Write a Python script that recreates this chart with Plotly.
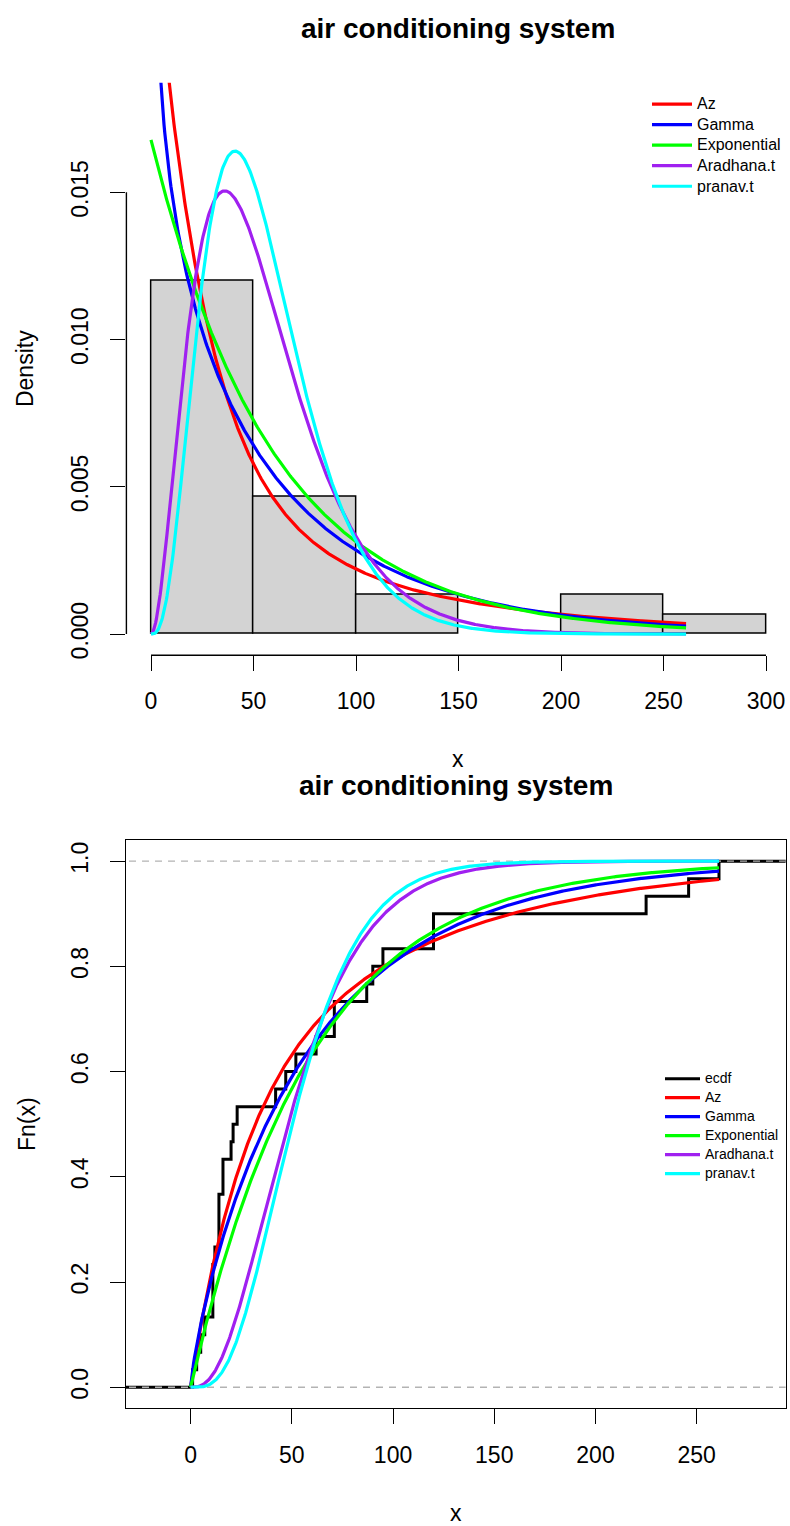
import math
import numpy as np
import plotly.graph_objects as go

# ---------------- data ----------------
failure_times = [23, 261, 87, 7, 120, 14, 62, 47, 225, 71, 246, 21, 42, 20, 5,
                 12, 120, 11, 3, 14, 71, 11, 14, 11, 16, 90, 1, 16, 52, 95]
hist_start, hist_end, hist_width = 0, 300, 50

series_names = ["Az", "Gamma", "Exponential", "Aradhana.t", "pranav.t"]
series_colors = ["#FF0000", "#0000FF", "#00FF00", "#A020F0", "#00FFFF"]

# fitted model parameters (read/estimated from the picture)
az_weight, az_rate1, az_rate2 = 0.5, 0.040, 0.0102
gamma_shape, gamma_rate = 0.803, 0.01348
exp_rate = 0.01678
aradhana_shape, aradhana_rate = 3.0, 0.0556
pranav_shape, pranav_rate = 4.0, 0.0732

top_xticks = [0, 50, 100, 150, 200, 250, 300]
top_yticks = [0.0, 0.005, 0.010, 0.015]
top_yticklabels = ["0.000", "0.005", "0.010", "0.015"]
bot_xticks = [0, 50, 100, 150, 200, 250]
bot_yticks = [0.0, 0.2, 0.4, 0.6, 0.8, 1.0]
bot_yticklabels = ["0.0", "0.2", "0.4", "0.6", "0.8", "1.0"]

# ---------------- model functions ----------------
def gamma_pdf(x, a, b):
    with np.errstate(divide="ignore", invalid="ignore"):
        v = b ** a * np.power(x, a - 1.0) * np.exp(-b * x) / math.gamma(a)
    return np.where(np.isfinite(v), v, 1.0)

def gamma_cdf(x, a, b):
    z = b * np.asarray(x, dtype=float)
    term = np.ones_like(z)
    total = np.ones_like(z)
    for n in range(1, 120):
        term = term * z / (a + n)
        total = total + term
    with np.errstate(divide="ignore", invalid="ignore"):
        v = np.power(z, a) * np.exp(-z) / math.gamma(a + 1.0) * total
    return np.where(z > 0, v, 0.0)

def az_pdf(x):
    return az_weight * az_rate1 * np.exp(-az_rate1 * x) + (1 - az_weight) * az_rate2 * np.exp(-az_rate2 * x)

def az_cdf(x):
    return az_weight * (1 - np.exp(-az_rate1 * x)) + (1 - az_weight) * (1 - np.exp(-az_rate2 * x))

xs = np.linspace(0, max(failure_times), 700)
pdfs = [az_pdf(xs), gamma_pdf(xs, gamma_shape, gamma_rate), exp_rate * np.exp(-exp_rate * xs),
        gamma_pdf(xs, aradhana_shape, aradhana_rate), gamma_pdf(xs, pranav_shape, pranav_rate)]
cdfs = [az_cdf(xs), gamma_cdf(xs, gamma_shape, gamma_rate), 1 - np.exp(-exp_rate * xs),
        gamma_cdf(xs, aradhana_shape, aradhana_rate), gamma_cdf(xs, pranav_shape, pranav_rate)]

# empirical CDF
vals, counts = np.unique(np.array(failure_times), return_counts=True)
ecdf_y = np.cumsum(counts) / len(failure_times)
ecdf_x = [-1000] + vals.tolist() + [1000]
ecdf_yy = [0.0] + ecdf_y.tolist() + [1.0]

# ---------------- layout helpers ----------------
W, H = 790, 1526
FONT = "Liberation Sans, Arial, Helvetica, sans-serif"
def px(p):
    return p / W
def py(p):
    return 1 - p / H

def leg_label(name, size):
    return '<span style="font-size:%dpx">%s</span>' % (size, name)

fig = go.Figure()

# top panel
fig.add_trace(go.Histogram(
    x=failure_times, xbins=dict(start=hist_start, end=hist_end, size=hist_width),
    histnorm="probability density", autobinx=False,
    marker=dict(color="#D3D3D3", line=dict(color="black", width=1.5)),
    showlegend=False, xaxis="x", yaxis="y", hoverinfo="skip"))
for name, col, yv in zip(series_names, series_colors, pdfs):
    fig.add_trace(go.Scatter(x=xs, y=yv, mode="lines", name=leg_label(name, 16),
                             line=dict(color=col, width=3.2),
                             xaxis="x", yaxis="y", legend="legend"))

# bottom panel
fig.add_trace(go.Scatter(x=ecdf_x, y=ecdf_yy, mode="lines", name=leg_label("ecdf", 14),
                         line=dict(color="black", width=3, shape="hv"),
                         xaxis="x2", yaxis="y2", legend="legend2"))
for lev in (0.0, 1.0):
    fig.add_trace(go.Scatter(x=[-1000, 1000], y=[lev, lev], mode="lines",
                             line=dict(color="#B3B3B3", width=1.4, dash="7px,6px"),
                             showlegend=False, xaxis="x2", yaxis="y2", hoverinfo="skip"))
for name, col, yv in zip(series_names, series_colors, cdfs):
    fig.add_trace(go.Scatter(x=xs, y=yv, mode="lines", name=leg_label(name, 14),
                             line=dict(color=col, width=3.2),
                             xaxis="x2", yaxis="y2", legend="legend2"))

tickfont = dict(family=FONT, size=23, color="black")
axis_common = dict(ticks="outside", ticklen=15, tickwidth=1.4, tickcolor="black",
                   tickfont=tickfont, showgrid=False, zeroline=False)

fig.update_layout(
    width=W, height=H, margin=dict(l=0, r=0, t=0, b=0),
    paper_bgcolor="white", plot_bgcolor="white", bargap=0,
    font=dict(family=FONT, color="black"),
    xaxis=dict(domain=[px(126.4), 1.0], range=[-12, 311.7], tickvals=top_xticks,
               showline=False, anchor="y", ticklabelstandoff=10, **axis_common),
    yaxis=dict(domain=[py(657), py(83)], range=[-0.00072, 0.01872], tickvals=top_yticks,
               ticktext=top_yticklabels, tickangle=-90, showline=False, anchor="x",
               ticklabelstandoff=13, **axis_common),
    xaxis2=dict(domain=[px(126), px(785.6)], range=[-31.9, 293.9], tickvals=bot_xticks,
                showline=True, mirror=True, linecolor="black", linewidth=1.4, anchor="y2",
                ticklabelstandoff=11, **axis_common),
    yaxis2=dict(domain=[py(1412), py(842.3)], range=[-0.04, 1.04], tickvals=bot_yticks,
                ticktext=bot_yticklabels, tickangle=-90, showline=True, mirror=True,
                linecolor="black", linewidth=1.4, anchor="x2", ticklabelstandoff=13, **axis_common),
    legend=dict(x=px(647), y=py(89), xanchor="left", yanchor="top",
                font=dict(family=FONT, size=13.5, color="black"),
                bgcolor="rgba(0,0,0,0)", borderwidth=0, itemwidth=40, tracegroupgap=0),
    legend2=dict(x=px(660), y=py(1067), xanchor="left", yanchor="top",
                 font=dict(family=FONT, size=11.2, color="black"),
                 bgcolor="rgba(0,0,0,0)", borderwidth=0, itemwidth=35, tracegroupgap=0),
)

# R-style axis lines of the histogram (span first to last tick)
fig.add_shape(type="line", xref="x", yref="paper", x0=top_xticks[0], x1=top_xticks[-1],
              y0=py(657), y1=py(657), line=dict(color="black", width=1.4))
fig.add_shape(type="line", xref="paper", yref="y", x0=px(126.4), x1=px(126.4),
              y0=top_yticks[0], y1=top_yticks[-1], line=dict(color="black", width=1.4))

# titles and axis labels
ann = [
    dict(text="<b>air conditioning system</b>", x=px(458), y=py(29), size=28, angle=0, h=None),
    dict(text="<b>air conditioning system</b>", x=px(456), y=py(788), size=28, angle=0, h=None),
    dict(text="x", x=px(458), y=py(761), size=23, angle=0, h=16),
    dict(text="x", x=px(456), y=py(1517), size=23, angle=0, h=16),
    dict(text="Density", x=px(25), y=py(370), size=23, angle=-90, h=None),
    dict(text="Fn(x)", x=px(27), y=py(1127), size=23, angle=-90, h=None),
]
for a in ann:
    kw = {}
    if a["h"] is not None:
        kw["height"] = a["h"]
    fig.add_annotation(text=a["text"], x=a["x"], y=a["y"], xref="paper", yref="paper",
                       xanchor="center", yanchor="middle", showarrow=False, textangle=a["angle"],
                       font=dict(family=FONT, size=a["size"], color="black"), **kw)

fig.write_html("out.html")
